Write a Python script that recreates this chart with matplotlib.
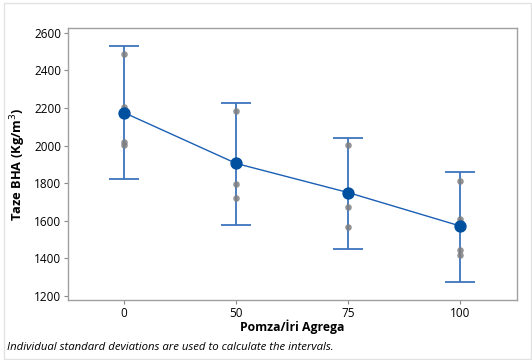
import matplotlib
matplotlib.use('Agg')
import matplotlib.pyplot as plt
from matplotlib.patches import Rectangle

plt.rcParams['font.family'] = ['Open Sans', 'DejaVu Sans']

groups = ['0', '50', '75', '100']
means = [2175, 1905, 1750, 1572]
ci_low = [1822, 1578, 1450, 1276]
ci_high = [2530, 2228, 2042, 1860]
points = [
    [2487, 2203, 2018, 2003],
    [2184, 1794, 1722],
    [2001, 1674, 1568],
    [1814, 1607, 1595, 1444, 1418],
]

fig = plt.figure(figsize=(5.32, 3.6), dpi=100)
fig.patches.append(Rectangle((4 / 532, 1 / 360), 527 / 532, 356 / 360, transform=fig.transFigure,
                             fill=False, edgecolor='#e2e2e2', linewidth=1))
ax = fig.add_axes([68 / 532, 60 / 360, 448.5 / 532, 272 / 360])

pos = list(range(1, len(groups) + 1))
for p, vals in zip(pos, points):
    ax.scatter([p] * len(vals), vals, s=22, color='#7f7f7f', alpha=0.85, zorder=3, linewidths=0)

yerr = [[m - lo for m, lo in zip(means, ci_low)], [hi - m for m, hi in zip(means, ci_high)]]
ax.errorbar(pos, means, yerr=yerr, fmt='none', ecolor='#3d74bd', elinewidth=1.3,
            capsize=11, capthick=1.3, zorder=2)
ax.plot(pos, means, color='#1a5fb4', linewidth=1, zorder=4)
ax.scatter(pos, means, s=62, color='#0050a0', zorder=5)

ax.set_xlim(0.5, 4.5)
ax.set_ylim(1179, 2625)
ax.set_xticks(pos)
ax.set_xticklabels(groups)
ax.set_yticks(range(1200, 2601, 200))
ax.tick_params(axis='both', labelsize=8.5, length=3, width=0.8, color='#888888', pad=2)
for s in ax.spines.values():
    s.set_color('#a0a0a0')
    s.set_linewidth(1)

ax.set_ylabel('Taze BHA (Kg/m$^3$)', fontsize=9.3, fontweight='bold', labelpad=4)
ax.set_xlabel('Pomza/İri Agrega', fontsize=8.8, fontweight='bold', labelpad=0)
fig.text(7 / 532, 1 - 347 / 360, 'Individual standard deviations are used to calculate the intervals.',
         fontsize=8.2, style='italic', va='center', ha='left')

fig.savefig('out.png', dpi=100)
